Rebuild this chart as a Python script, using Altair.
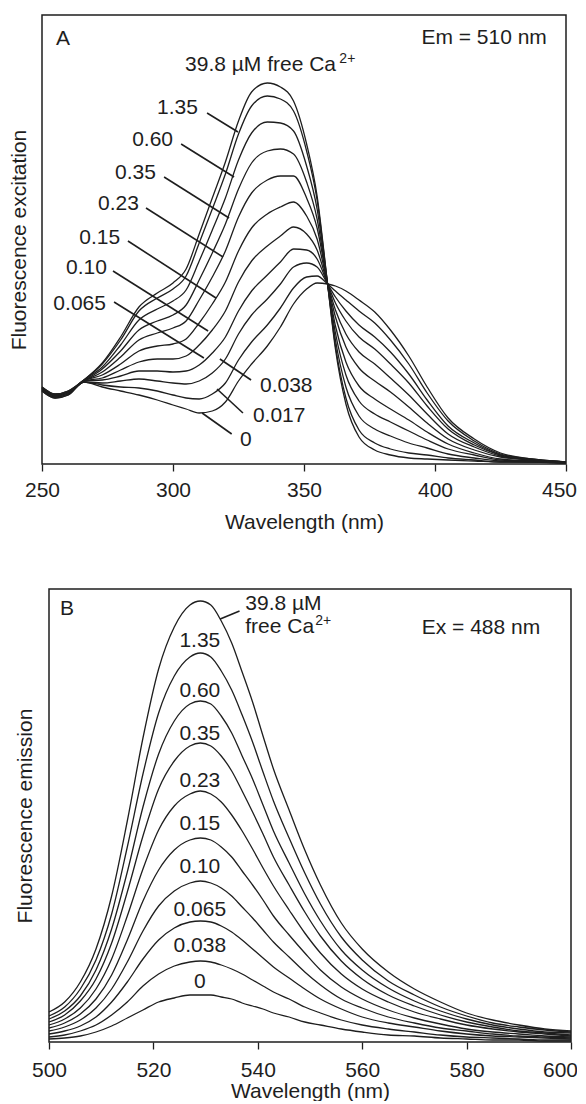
import altair as alt
import pandas as pd

FONT = "Liberation Sans"
INK = "#1e1e1e"
FS = 21

# ---------------- Panel A: fluorescence excitation (Em = 510 nm) ----------------
wavelength_A = [250, 255, 260, 266, 273, 280, 287, 294, 300, 305, 310, 315, 320, 325,
                330, 336, 341, 346, 351, 355, 359, 362, 366, 371, 377, 383, 390, 397,
                405, 415, 425, 437, 450]

exc_0     = [73, 66, 69, 82, 77, 73, 69, 64, 59, 55, 51, 53, 62, 83, 100, 118, 137, 160, 175, 181, 180, 178, 173, 164, 152, 134, 108, 77, 46, 25, 11, 5, 2]
exc_0017  = [73, 66, 69, 82, 79, 77, 76, 73, 69, 66, 65, 70, 81, 104, 122, 139, 156, 176, 187, 188, 180, 173, 164, 153, 141, 124, 100, 71, 43, 23, 10, 5, 2]
exc_0038  = [74, 67, 70, 82, 81, 83, 85, 83, 81, 80, 83, 91, 105, 130, 149, 165, 180, 197, 201, 197, 180, 167, 153, 139, 127, 112, 90, 64, 38, 21, 9, 4, 2]
exc_0065  = [74, 67, 70, 83, 84, 88, 93, 93, 92, 93, 99, 111, 127, 153, 173, 189, 202, 215, 214, 205, 180, 161, 143, 127, 115, 100, 81, 58, 35, 19, 9, 4, 2]
exc_010   = [75, 68, 71, 83, 86, 94, 102, 105, 105, 108, 119, 134, 153, 182, 203, 218, 228, 237, 230, 214, 180, 154, 130, 112, 100, 86, 69, 50, 30, 17, 8, 4, 2]
exc_015   = [75, 68, 71, 83, 89, 100, 113, 118, 120, 125, 141, 160, 182, 213, 236, 250, 257, 262, 248, 225, 180, 147, 117, 96, 83, 72, 57, 41, 25, 14, 7, 4, 2]
exc_023   = [76, 69, 72, 83, 92, 107, 124, 131, 136, 143, 164, 187, 213, 247, 271, 284, 288, 288, 266, 236, 180, 138, 102, 78, 65, 55, 44, 32, 20, 11, 5, 3, 1]
exc_035   = [76, 69, 72, 83, 95, 113, 134, 143, 149, 159, 184, 211, 240, 275, 301, 313, 315, 310, 282, 245, 180, 131, 89, 63, 50, 42, 33, 24, 15, 9, 4, 3, 1]
exc_060   = [76, 69, 72, 84, 97, 119, 144, 155, 163, 174, 203, 234, 266, 304, 331, 342, 341, 333, 298, 255, 180, 124, 77, 48, 35, 28, 21, 16, 10, 6, 3, 2, 1]
exc_135   = [77, 70, 73, 84, 100, 124, 153, 166, 175, 188, 221, 255, 290, 330, 358, 368, 365, 353, 313, 264, 180, 118, 66, 34, 21, 15, 11, 9, 6, 4, 2, 2, 1]
exc_398   = [77, 70, 73, 84, 101, 127, 157, 171, 181, 195, 230, 266, 302, 343, 372, 381, 377, 363, 320, 268, 180, 115, 60, 27, 14, 9, 6, 5, 4, 3, 2, 2, 1]

exc_curves = {
    "0": exc_0, "0.017": exc_0017, "0.038": exc_0038, "0.065": exc_0065,
    "0.10": exc_010, "0.15": exc_015, "0.23": exc_023, "0.35": exc_035,
    "0.60": exc_060, "1.35": exc_135, "39.8": exc_398,
}

# curve labels (left side, right-aligned text)
lblA_left_text = ["1.35", "0.60", "0.35", "0.23", "0.15", "0.10", "0.065"]
lblA_left_nm = [309.5, 300.0, 293.5, 287.0, 279.8, 274.8, 274.4]
lblA_left_v = [356, 324, 291, 260, 226, 196, 160]
# curve labels (lower right, left-aligned text)
lblA_right_text = ["0.038", "0.017", "0"]
lblA_right_nm = [333.2, 330.5, 325.6]
lblA_right_v = [78, 48, 24]
# leader lines
leadA_x1 = [313.0, 303.1, 296.6, 289.7, 282.8, 277.1, 277.5, 317.9, 316.8, 311.1]
leadA_y1 = [351, 320, 287, 256, 223, 193, 162, 105, 75, 51]
leadA_x2 = [324.8, 323.3, 321.4, 319.1, 316.4, 313.4, 311.8, 329.8, 326.7, 322.4]
leadA_y2 = [332, 287, 246, 207, 166, 133, 106, 84, 51, 30]

# ---------------- Panel B: fluorescence emission (Ex = 488 nm) ----------------
wavelength_B = [500, 503, 506, 509, 512, 515, 518, 521, 524, 527, 529, 531, 533, 535,
                537, 539, 541, 543, 546, 549, 552, 556, 560, 565, 570, 575, 580, 585,
                590, 595, 600]

emi_0     = [3, 4, 6, 10, 16, 24, 32, 40, 44, 47, 47, 47, 45, 43, 39, 36, 33, 29, 25, 20, 17, 13, 10, 7, 6, 4, 3, 2, 2, 1, 1]
emi_0038  = [5, 7, 11, 17, 27, 40, 56, 68, 76, 80, 81, 80, 77, 73, 68, 62, 56, 50, 43, 35, 29, 22, 17, 13, 10, 7, 5, 4, 3, 2, 2]
emi_0065  = [8, 11, 16, 25, 40, 60, 83, 102, 114, 120, 121, 120, 116, 110, 102, 93, 84, 75, 64, 53, 43, 33, 25, 19, 15, 11, 8, 6, 5, 4, 3]
emi_010   = [11, 15, 22, 34, 53, 80, 111, 136, 151, 159, 161, 159, 154, 146, 135, 124, 112, 100, 85, 70, 57, 43, 34, 25, 19, 14, 11, 8, 6, 5, 4]
emi_015   = [14, 19, 28, 43, 67, 102, 141, 172, 192, 202, 204, 202, 195, 185, 171, 157, 142, 126, 107, 89, 72, 55, 43, 32, 24, 18, 13, 10, 8, 6, 5]
emi_023   = [17, 23, 34, 53, 83, 126, 173, 212, 236, 248, 251, 248, 240, 227, 211, 193, 174, 156, 132, 109, 89, 68, 53, 40, 30, 23, 17, 13, 10, 8, 6]
emi_035   = [20, 27, 41, 63, 99, 150, 206, 253, 281, 296, 299, 296, 286, 271, 251, 230, 208, 185, 157, 130, 106, 81, 63, 47, 36, 27, 20, 15, 11, 9, 7]
emi_060   = [23, 31, 46, 72, 113, 170, 235, 288, 321, 338, 341, 338, 326, 309, 286, 263, 237, 211, 179, 148, 121, 92, 72, 54, 41, 31, 23, 17, 13, 10, 9]
emi_135   = [26, 35, 53, 82, 128, 195, 268, 329, 366, 385, 389, 385, 371, 352, 327, 300, 270, 241, 204, 169, 138, 105, 82, 61, 47, 35, 26, 19, 15, 12, 10]
emi_398   = [30, 40, 60, 93, 146, 221, 304, 373, 415, 437, 441, 437, 421, 399, 370, 340, 306, 273, 232, 192, 157, 119, 93, 70, 53, 40, 29, 22, 17, 13, 11]

emi_curves = {
    "0": emi_0, "0.038": emi_0038, "0.065": emi_0065, "0.10": emi_010,
    "0.15": emi_015, "0.23": emi_023, "0.35": emi_035, "0.60": emi_060,
    "1.35": emi_135, "39.8": emi_398,
}

lblB_text = ["1.35", "0.60", "0.35", "0.23", "0.15", "0.10", "0.065", "0.038", "0"]
lblB_nm = [528.9] * 9
lblB_v = [401, 351, 308, 261, 218, 175, 132, 96, 60]


def long_df(xs, curves):
    rows = []
    for c, ys in curves.items():
        for x, y in zip(xs, ys):
            rows.append({"nm": x, "v": y, "conc": c})
    return pd.DataFrame(rows)


dfA = long_df(wavelength_A, exc_curves)
dfB = long_df(wavelength_B, emi_curves)


def text_layer(df, align, size=FS):
    return alt.Chart(df).mark_text(
        align=align, baseline="middle", font=FONT, fontSize=size, color=INK
    ).encode(x="nm:Q", y="v:Q", text="t:N")


def frame_layer(x0, x1, y0, y1):
    return alt.Chart(pd.DataFrame({"a": [0]})).mark_rect(
        filled=False, stroke=INK, strokeWidth=1.5
    ).encode(x=alt.datum(x0), x2=alt.datum(x1), y=alt.datum(y0), y2=alt.datum(y1))


# ---------------- build panel A ----------------
xA = alt.X("nm:Q", scale=alt.Scale(domain=[250, 450], nice=False, zero=False),
           axis=alt.Axis(values=[250, 300, 350, 400, 450], title="Wavelength (nm)",
                         titlePadding=11,
                         labelOffset={"condition": {"test": "datum.value == 450", "value": -7},
                                      "value": 0}))
yA = alt.Y("v:Q", scale=alt.Scale(domain=[0, 449], nice=False),
           axis=alt.Axis(title="Fluorescence excitation", labels=False, ticks=False,
                         domain=False, titlePadding=13))

linesA = alt.Chart(dfA).mark_line(interpolate="monotone", color=INK, strokeWidth=1.3).encode(
    x=xA, y=yA, detail="conc:N")

leadA = alt.Chart(pd.DataFrame({"x1": leadA_x1, "y1": leadA_y1, "x2": leadA_x2, "y2": leadA_y2})
                  ).mark_rule(color=INK, strokeWidth=1.6).encode(
    x="x1:Q", y="y1:Q", x2="x2:Q", y2="y2:Q")

txtA_l = text_layer(pd.DataFrame({"t": lblA_left_text, "nm": lblA_left_nm, "v": lblA_left_v}), "right")
txtA_r = text_layer(pd.DataFrame({"t": lblA_right_text, "nm": lblA_right_nm, "v": lblA_right_v}), "left")
txtA_corner_l = text_layer(pd.DataFrame({"t": ["A", "39.8 \u00b5M free Ca"], "nm": [255.3, 304.6], "v": [425, 399]}), "left")
txtA_corner_r = text_layer(pd.DataFrame({"t": ["Em = 510 nm"], "nm": [442.7], "v": [426]}), "right")
txtA_sup = text_layer(pd.DataFrame({"t": ["2+"], "nm": [363.5], "v": [405]}), "left", size=14)

panelA = alt.layer(frame_layer(250, 450, 0, 449), linesA, leadA, txtA_l, txtA_r,
                   txtA_corner_l, txtA_corner_r, txtA_sup
                   ).properties(width=524, height=449)

# ---------------- build panel B ----------------
# panel B sits ~7 px further right than panel A in the original figure
xB = alt.X("nm:Q", scale=alt.Scale(domain=[500, 600], nice=False, zero=False, range=[7, 529]),
           axis=alt.Axis(values=[500, 520, 540, 560, 580, 600], title="Wavelength (nm)",
                         titlePadding=0, labelPadding=10,
                         labelOffset={"condition": {"test": "datum.value == 600", "value": -11},
                                      "value": 0}))
yB = alt.Y("v:Q", scale=alt.Scale(domain=[0, 453], nice=False),
           axis=alt.Axis(title="Fluorescence emission", labels=False, ticks=False,
                         domain=False, titlePadding=7))

linesB = alt.Chart(dfB).mark_line(interpolate="monotone", color=INK, strokeWidth=1.3).encode(
    x=xB, y=yB, detail="conc:N")

leadB = alt.Chart(pd.DataFrame({"x1": [532.8], "y1": [423], "x2": [536.5], "y2": [431]})
                  ).mark_rule(color=INK, strokeWidth=1.6).encode(
    x="x1:Q", y="y1:Q", x2="x2:Q", y2="y2:Q")

txtB_c = text_layer(pd.DataFrame({"t": lblB_text, "nm": lblB_nm, "v": lblB_v}), "center")
txtB_l = text_layer(pd.DataFrame({"t": ["B", "39.8 \u00b5M", "free Ca"], "nm": [502.1, 537.6, 537.6],
                                  "v": [433, 438, 415]}), "left")
txtB_r = text_layer(pd.DataFrame({"t": ["Ex = 488 nm"], "nm": [594.1], "v": [414]}), "right")
txtB_sup = text_layer(pd.DataFrame({"t": ["2+"], "nm": [551.0], "v": [421]}), "left", size=14)

panelB = alt.layer(frame_layer(500, 600, 0, 453), linesB, leadB, txtB_c, txtB_l, txtB_r, txtB_sup
                   ).properties(width=529, height=453)

chart = alt.vconcat(panelA, panelB, spacing=56).properties(
    padding={"left": 0, "top": 6, "right": -1, "bottom": 0}
).configure_view(
    stroke=None
).configure_axis(
    labelFont=FONT, titleFont=FONT, labelFontSize=FS, titleFontSize=FS,
    labelColor=INK, titleColor=INK, titleFontWeight="normal",
    tickColor=INK, tickSize=7, tickWidth=1.3, grid=False, domain=False,
    labelFlush=False, labelPadding=8
)

chart.save("out.html", embed_options={"renderer": "svg", "actions": False})
